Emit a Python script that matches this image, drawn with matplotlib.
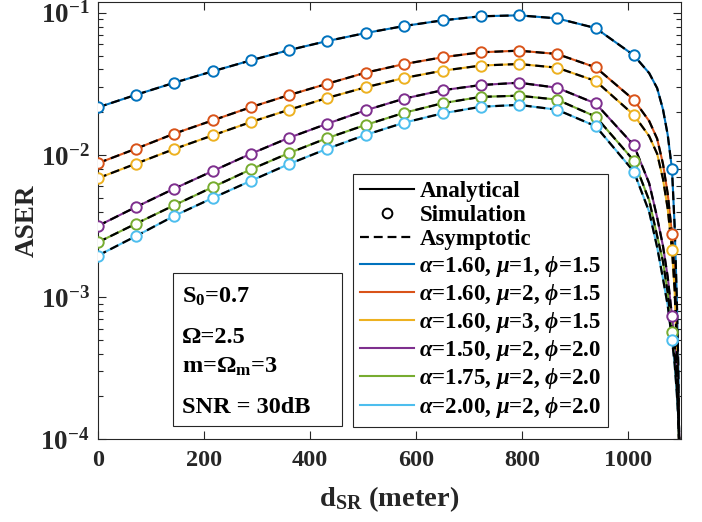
import numpy as np
import matplotlib
matplotlib.use("Agg")
import matplotlib.pyplot as plt
from matplotlib.lines import Line2D
from matplotlib.patches import Rectangle

plt.rcParams['font.family'] = ['Liberation Serif', 'DejaVu Serif']
plt.rcParams['font.weight'] = 'bold'
plt.rcParams['mathtext.fontset'] = 'custom'
plt.rcParams['mathtext.rm'] = 'Liberation Serif:bold'
plt.rcParams['mathtext.it'] = 'Liberation Serif:italic:bold'
plt.rcParams['mathtext.bf'] = 'Liberation Serif:bold'
plt.rcParams['axes.unicode_minus'] = False

# ---------------- data ----------------
d_sim = [0, 72, 144, 217, 289, 361, 433, 505, 578, 650, 722, 794, 866, 939, 1011, 1083]
d_tail = [1040, 1055, 1066, 1075, 1088, 1092, 1095, 1098]

labels = [r"$\alpha$=1.60, $\mu$=1, $\phi$=1.5",
          r"$\alpha$=1.60, $\mu$=2, $\phi$=1.5",
          r"$\alpha$=1.60, $\mu$=3, $\phi$=1.5",
          r"$\alpha$=1.50, $\mu$=2, $\phi$=2.0",
          r"$\alpha$=1.75, $\mu$=2, $\phi$=2.0",
          r"$\alpha$=2.00, $\mu$=2, $\phi$=2.0"]
colors = ['#0072BD', '#D95319', '#EDB120', '#7E2F8E', '#77AC30', '#4DBEEE']

sim_a160_mu1 = [0.0216, 0.0265, 0.0322, 0.0388, 0.0463, 0.0547, 0.0633, 0.0720,
                0.0807, 0.0884, 0.0944, 0.0959, 0.0913, 0.0780, 0.0502, 0.00794]
sim_a160_mu2 = [0.00875, 0.01107, 0.01412, 0.01753, 0.0217, 0.0264, 0.0317, 0.0379,
                0.0436, 0.0486, 0.0527, 0.0541, 0.0513, 0.0413, 0.0244, 0.00277]
sim_a160_mu3 = [0.00686, 0.00869, 0.01101, 0.01375, 0.01706, 0.0208, 0.0252, 0.0299,
                0.0348, 0.0391, 0.0425, 0.0436, 0.0411, 0.0331, 0.0191, 0.00216]
sim_a150_mu2 = [0.00317, 0.00431, 0.00580, 0.00772, 0.01021, 0.01323, 0.01660, 0.0206,
                0.0249, 0.0285, 0.0310, 0.0322, 0.0297, 0.0230, 0.01170, 0.000731]
sim_a175_mu2 = [0.00243, 0.00329, 0.00443, 0.00595, 0.00793, 0.01033, 0.01315, 0.01626,
                0.0198, 0.0231, 0.0256, 0.0261, 0.0245, 0.0186, 0.00912, 0.000573]
sim_a200_mu2 = [0.00196, 0.00269, 0.00373, 0.00499, 0.00659, 0.00865, 0.01107, 0.01384,
                0.01687, 0.0196, 0.0218, 0.0225, 0.0208, 0.01593, 0.00764, 0.000503]

tail_a160_mu1 = [0.0376, 0.0295, 0.0209, 0.0138, 0.00316, 0.00100, 0.000316, 0.00003]
tail_a160_mu2 = [0.0173, 0.0130, 0.00865, 0.00531, 0.00141, 0.000562, 0.000200, 0.00005]
tail_a160_mu3 = [0.01355, 0.01019, 0.00678, 0.00416, 0.00112, 0.000447, 0.000158, 0.00004]
tail_a150_mu2 = [0.00631, 0.00363, 0.00229, 0.00138, 0.000468, 0.000282, 0.000166, 0.000071]
tail_a175_mu2 = [0.00479, 0.00269, 0.00178, 0.00107, 0.000372, 0.000234, 0.000148, 0.000063]
tail_a200_mu2 = [0.00398, 0.00224, 0.00135, 0.00087, 0.000339, 0.000214, 0.000138, 0.000063]

sims = [sim_a160_mu1, sim_a160_mu2, sim_a160_mu3, sim_a150_mu2, sim_a175_mu2, sim_a200_mu2]
tails = [tail_a160_mu1, tail_a160_mu2, tail_a160_mu3, tail_a150_mu2, tail_a175_mu2, tail_a200_mu2]

x_ticks = [0, 200, 400, 600, 800, 1000]

# ---------------- figure ----------------
W, H = 702, 522
fig = plt.figure(figsize=(W / 100, H / 100), dpi=100)
ax = fig.add_axes([98 / W, 1 - 439.3 / H, (681 - 98) / W, (439.3 - 2) / H])

dk = '#262626'
for sim, tail, c in zip(sims, tails, colors):
    xs = np.array(d_sim + d_tail, dtype=float)
    ys = np.array(sim + tail, dtype=float)
    order = np.argsort(xs)
    xs, ys = xs[order], ys[order]
    ax.plot(xs, ys, color=c, lw=1.5, zorder=2, solid_joinstyle='round')
    ax.plot(xs, ys, color='black', lw=1.6, ls=(0, (4, 2.2)), zorder=3)
    ax.plot(d_sim, sim, ls='none', marker='o', ms=7.5, mew=1.4,
            mec=c, mfc='white', zorder=4)

ax.set_yscale('log')
ax.set_xlim(0, 1100)
ax.set_ylim(1e-4, 0.119)
ax.set_xticks(x_ticks)
ax.set_xticklabels([str(t) for t in x_ticks])
ax.set_yticks([1e-4, 1e-3, 1e-2, 1e-1])
ax.yaxis.set_minor_locator(matplotlib.ticker.LogLocator(base=10, subs=np.arange(2, 10)))
ax.yaxis.set_minor_formatter(matplotlib.ticker.NullFormatter())
ax.tick_params(which='both', direction='in', top=True, right=True, colors=dk, width=0.8)
ax.tick_params(which='major', length=6)
ax.tick_params(which='minor', length=3.5)
ax.tick_params(axis='x', labelsize=17.5, pad=8)
ax.tick_params(axis='y', labelsize=19.5, pad=6)
for s in ax.spines.values():
    s.set_color(dk)
    s.set_linewidth(0.8)

ax.set_ylabel('ASER', fontsize=19.5, fontweight='bold', color=dk)
ax.yaxis.set_label_coords(-0.1, 0.5)
ax.set_xlabel(r'$\mathrm{d}_\mathrm{SR}$ (meter)', fontsize=20.5, fontweight='bold', color=dk)
ax.xaxis.set_label_coords(0.5, -0.102)

# legend
handles = [Line2D([], [], color='black', lw=1.5),
           Line2D([], [], ls='none', marker='o', ms=7, mew=1.4, mec='black', mfc='white'),
           Line2D([], [], color='black', lw=1.6, ls=(0, (4, 2.2)))]
handles += [Line2D([], [], color=c, lw=1.5) for c in colors]
leg_labels = ['Analytical', 'Simulation', 'Asymptotic'] + labels
leg = fig.legend(handles, leg_labels, loc='upper left',
                 bbox_to_anchor=(353 / W, 1 - 174 / H), bbox_transform=fig.transFigure,
                 fontsize=16.5, frameon=True, fancybox=False, framealpha=1,
                 edgecolor=dk, handlelength=2.35, handletextpad=0.25,
                 labelspacing=0.14, borderpad=0.3, borderaxespad=0)
leg.get_frame().set_linewidth(0.8)
for t in leg.get_texts():
    t.set_color('black')

# parameter box
fig.patches.append(Rectangle((173 / W, 1 - 425.7 / H), (341.7 - 173) / W, (425.7 - 273.3) / H,
                             transform=fig.transFigure, fill=True, facecolor='white',
                             edgecolor=dk, lw=0.8, zorder=5))
box_lines = [r'$\mathrm{S}_0$=0.7', 'Ω=2.5', r'm=$\Omega_\mathrm{m}$=3', 'SNR = 30dB']
box_baselines = [303, 343, 373, 413]
for txt, yb in zip(box_lines, box_baselines):
    fig.text(181.7 / W, 1 - yb / H, txt, fontsize=17.5, fontweight='bold',
             va='baseline', ha='left', color='black', zorder=6)

fig.savefig('out.png', dpi=100)
